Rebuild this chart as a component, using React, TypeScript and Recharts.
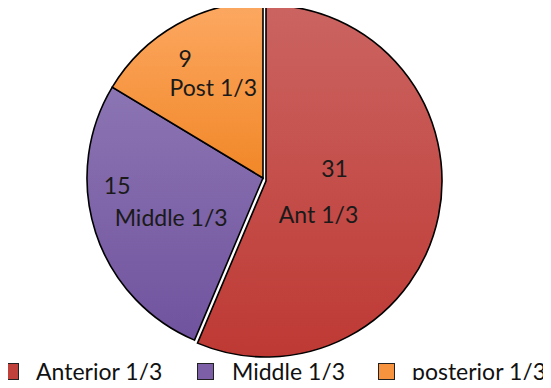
import { Cell, Legend, Pie, PieChart } from "recharts";

const names = ["Anterior 1/3", "Middle 1/3", "posterior 1/3"];
const shortNames = ["Ant 1/3", "Middle 1/3", "Post 1/3"];
const counts = [31, 15, 9];

const colors = ["#C0403B", "#7D5FA8", "#F7923F"];
const gradients = [
  ["#CB6461", "#BE3934"],
  ["#8C75B3", "#70539E"],
  ["#FCA862", "#F18727"],
];

const data = names.map((name, i) => ({
  name,
  short: shortNames[i],
  value: counts[i],
}));

const RADIAN = Math.PI / 180;
const FONT = "Lato, 'Open Sans', sans-serif";

// radius factor and line offsets for each slice label
const labelPos = [
  { r: 0.38, v: [6, -23], n: [-10, 23] },
  { r: 0.65, v: [-37, -28], n: [17, 4] },
  { r: 0.69, v: [-18, -14], n: [10, 15] },
];

const legendLeft = [2, 197, 378];

const renderLabel = (props: any) => {
  const { cx, cy, midAngle, outerRadius, index } = props;
  const p = labelPos[index];
  const x = cx + outerRadius * p.r * Math.cos(-midAngle * RADIAN);
  const y = cy + outerRadius * p.r * Math.sin(-midAngle * RADIAN);
  return (
    <g>
      <text
        x={x + p.v[0]}
        y={y + p.v[1]}
        textAnchor="middle"
        dominantBaseline="central"
        fontSize={23}
        fontFamily={FONT}
        fill="#1a1a1a"
      >
        {data[index].value}
      </text>
      <text
        x={x + p.n[0]}
        y={y + p.n[1]}
        textAnchor="middle"
        dominantBaseline="central"
        fontSize={23}
        fontFamily={FONT}
        fill="#1a1a1a"
      >
        {data[index].short}
      </text>
    </g>
  );
};

const renderLegend = () => (
  <div style={{ position: "relative", height: 26, fontFamily: FONT, fontSize: 23, color: "#111" }}>
    {names.map((n, i) => (
      <div
        key={n}
        style={{
          position: "absolute",
          left: legendLeft[i],
          top: 0,
          height: 26,
          lineHeight: "26px",
          display: "flex",
          alignItems: "center",
          whiteSpace: "nowrap",
        }}
      >
        <span
          style={{
            display: "inline-block",
            width: 15,
            height: 15,
            background: colors[i],
            border: "1px solid #222",
            marginRight: i === 1 ? 18 : 17,
          }}
        />
        {n}
      </div>
    ))}
  </div>
);

export default function App() {
  return (
    <div style={{ margin: -8, background: "#fff", width: 551, height: 388 }}>
      <PieChart width={551} height={388} margin={{ top: 0, right: 0, bottom: 0, left: 0 }}>
        <defs>
          {gradients.map((g, i) => (
            <linearGradient key={i} id={`grad${i}`} x1="0" y1="0" x2="0" y2="1">
              <stop offset="0%" stopColor={g[0]} />
              <stop offset="100%" stopColor={g[1]} />
            </linearGradient>
          ))}
        </defs>
        <Pie
          data={data}
          dataKey="value"
          cx={263}
          cy={178}
          outerRadius={176}
          startAngle={90}
          endAngle={-270}
          stroke="#000"
          strokeWidth={1.6}
          label={renderLabel}
          labelLine={false}
          isAnimationActive={false}
          legendType="none"
        >
          {data.map((d, i) => (
            <Cell
              key={d.name}
              fill={i === 0 ? "none" : `url(#grad${i})`}
              stroke={i === 0 ? "none" : "#000"}
            />
          ))}
        </Pie>
        <Pie
          data={data}
          dataKey="value"
          cx={266}
          cy={181}
          outerRadius={176}
          startAngle={90}
          endAngle={-270}
          strokeWidth={1.6}
          labelLine={false}
          isAnimationActive={false}
          legendType="none"
        >
          {data.map((d, i) => (
            <Cell
              key={d.name}
              fill={i === 0 ? "url(#grad0)" : "none"}
              stroke={i === 0 ? "#000" : "none"}
            />
          ))}
        </Pie>
        <Legend
          verticalAlign="bottom"
          align="left"
          content={renderLegend}
          wrapperStyle={{ left: 0, top: 358, bottom: "auto", width: 551, height: 26 }}
        />
      </PieChart>
    </div>
  );
}
